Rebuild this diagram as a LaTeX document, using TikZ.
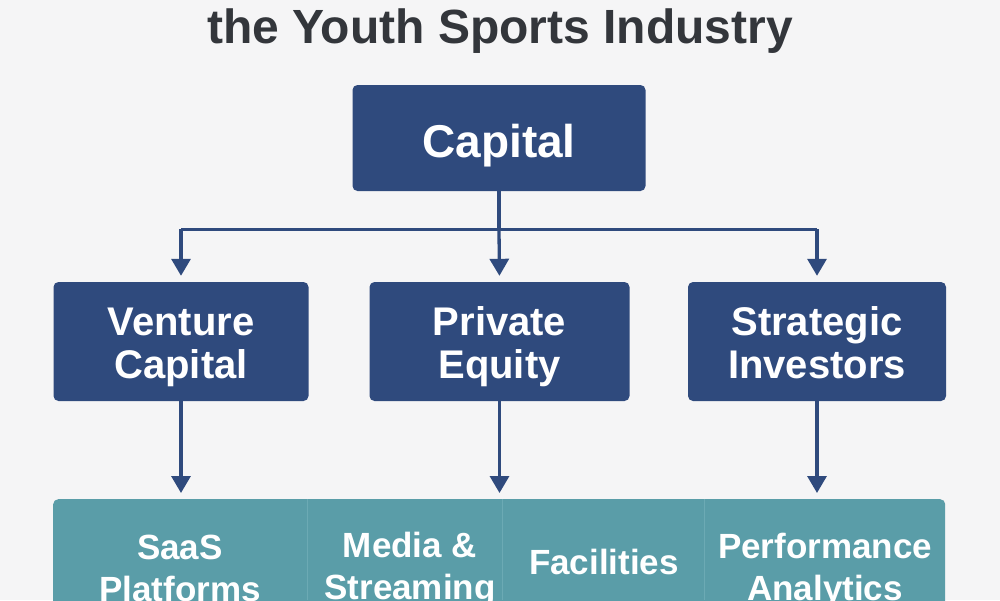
\documentclass[tikz,border=0pt]{standalone}
\usepackage{fontspec}
\setmainfont{Liberation Sans}
\usetikzlibrary{arrows.meta,calc}
\definecolor{bgc}{HTML}{F5F5F6}
\definecolor{navy}{HTML}{2F4A7D}
\definecolor{teal}{HTML}{5A9DA8}
\definecolor{tealline}{HTML}{6CAAB4}
\definecolor{titlec}{HTML}{33363B}
\tikzset{
  navybox/.style={fill=navy, draw=none, rounded corners=5pt, text=white,
    font=\bfseries\fontsize{40}{43}\selectfont, align=center, inner sep=0pt,
    text height=73pt, text depth=0pt},
  celltext/.style={text=white, font=\bfseries\fontsize{35}{42}\selectfont, align=center, inner sep=0pt},
  arr/.style={draw=navy, line width=3.3pt, shorten >=6pt, -{Triangle[length=17pt,width=19pt]}},
  link/.style={draw=navy, line width=3.3pt},
  divider/.style={draw=tealline, line width=1pt},
}
\begin{document}
\begin{tikzpicture}[x=1pt,y=-1pt]
\useasboundingbox (0,0) rectangle (1000,600);
\clip (0,0) rectangle (1000,600);
\fill[bgc] (0,0) rectangle (1000,600);
% title
\node[text=titlec, font=\bfseries\fontsize{48}{52}\selectfont, anchor=base, inner sep=0pt] (title) at (500,43) {the Youth Sports Industry};
% capital
\node[navybox, font=\bfseries\fontsize{46}{50}\selectfont, text height=39pt, minimum width=293pt, minimum height=106pt] (cap) at (499,138) {Capital};
% second level
\node[navybox, minimum width=255pt, minimum height=119pt] (vc) at (181,341.5) {Venture\\Capital};
\node[navybox, minimum width=260pt, minimum height=119pt] (pe) at (499.5,341.5) {Private\\Equity};
\node[navybox, minimum width=258pt, minimum height=119pt] (si) at (817,341.5) {Strategic\\Investors};
% bottom bar
\node[fill=teal, rounded corners=5pt, minimum width=892pt, minimum height=160pt, inner sep=0pt, anchor=north west] (bar) at (53,499) {};
\draw[divider] (307,499) -- (307,600);
\draw[divider] (502,499) -- (502,600);
\draw[divider] (704,499) -- (704,600);
\node[celltext] (c1) at (180,568) {SaaS\\Platforms};
\node[celltext] (c2) at (410,570) {Media \&\\Streaming};
\node[celltext] (c3) at (604,562) {Facilities};
\node[celltext] (c4) at (825,570) {Performance\\Analytics};
% connectors
\coordinate (hub) at ($(cap.south)+(0,38)$);
\draw[link] (cap.south) -- (hub);
\draw[arr] (hub -| vc.north) -- (vc.north);
\draw[link] (hub -| vc.north) -- (hub -| si.north);
\draw[arr] (hub -| si.north) -- (si.north);
\draw[arr] (hub) -- (pe.north);
\draw[arr] (vc.south) -- (vc.south |- bar.north);
\draw[arr] (pe.south) -- (pe.south |- bar.north);
\draw[arr] (si.south) -- (si.south |- bar.north);
\end{tikzpicture}
\end{document}
